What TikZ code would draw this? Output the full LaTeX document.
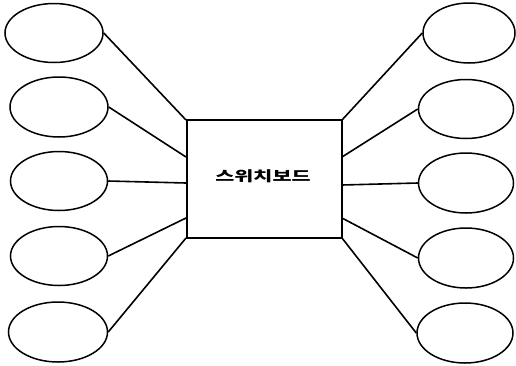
\documentclass[tikz,border=0pt]{standalone}
\usepackage{fontspec}
\newfontfamily\krfont{Noto Sans CJK KR}
\usetikzlibrary{shapes.geometric}
\begin{document}
\begin{tikzpicture}[x=1pt,y=-1pt,
  oval/.style={draw,ellipse,line width=1.5pt,inner sep=0pt},
  link/.style={line width=1.6pt},
  board/.style={draw,rectangle,line width=2pt,minimum width=155pt,minimum height=118pt,inner sep=0pt}]
\useasboundingbox (0,0) rectangle (516,365);
\node[oval,minimum width=98pt,minimum height=59pt] (L1) at (54,33) {};
\node[oval,minimum width=98pt,minimum height=60pt] (L2) at (59,107) {};
\node[oval,minimum width=97pt,minimum height=59pt] (L3) at (59,181) {};
\node[oval,minimum width=97pt,minimum height=59pt] (L4) at (59,256) {};
\node[oval,minimum width=99pt,minimum height=60pt] (L5) at (58,332) {};
\node[oval,minimum width=92pt,minimum height=60pt] (R1) at (469,33) {};
\node[oval,minimum width=95pt,minimum height=59pt] (R2) at (466,109) {};
\node[oval,minimum width=95pt,minimum height=60pt] (R3) at (466,183) {};
\node[oval,minimum width=95pt,minimum height=60pt] (R4) at (466,258) {};
\node[oval,minimum width=96pt,minimum height=60pt] (R5) at (465,333) {};
\node[board] (sb) at (264,179) {};
\node[font=\krfont\bfseries\fontsize{14}{14}\selectfont,xscale=1.48] (lbl) at (263,176) {스위치보드};
\coordinate (a1) at (186,120);
\coordinate (a2) at (186,157);
\coordinate (a3) at (186,183);
\coordinate (a4) at (186,218);
\coordinate (a5) at (186,238);
\coordinate (b1) at (342,120);
\coordinate (b2) at (342,157);
\coordinate (b3) at (342,185);
\coordinate (b4) at (342,218);
\coordinate (b5) at (342,238);
\draw[link] (L1.east) -- (a1);
\draw[link] (L2.east) -- (a2);
\draw[link] (L3.east) -- (a3);
\draw[link] (L4.east) -- (a4);
\draw[link] (L5.east) -- (a5);
\draw[link] (R1.west) -- (b1);
\draw[link] (R2.west) -- (b2);
\draw[link] (R3.west) -- (b3);
\draw[link] (R4.west) -- (b4);
\draw[link] (R5.west) -- (b5);
\end{tikzpicture}
\end{document}
